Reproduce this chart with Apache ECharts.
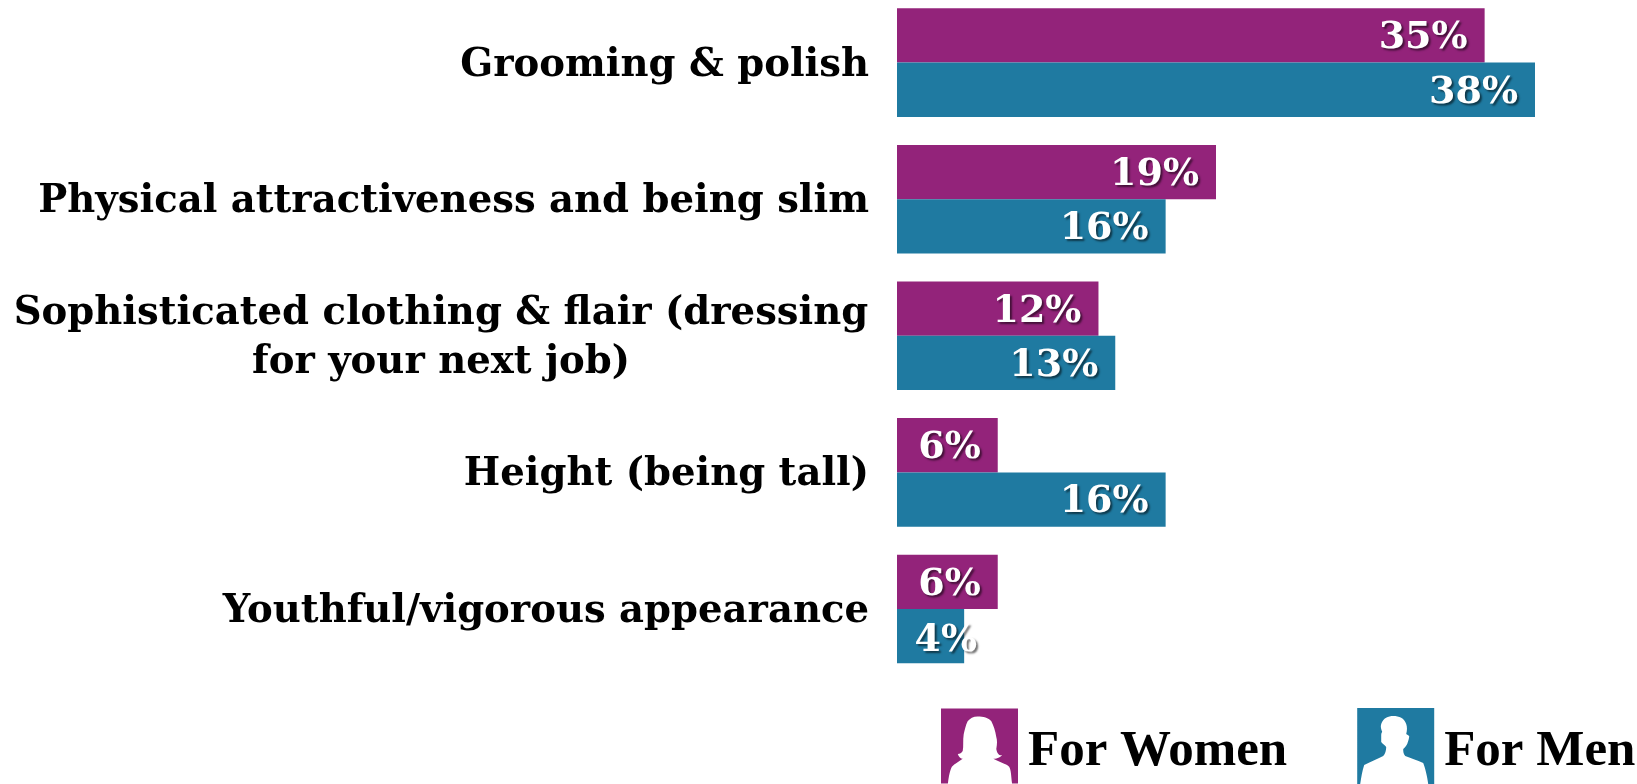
<!DOCTYPE html>
<html>
<head>
<meta charset="utf-8">
<title>Executive presence: appearance</title>
<script src="https://cdn.jsdelivr.net/npm/echarts@6/dist/echarts.min.js"></script>
<style>
  html, body { margin: 0; padding: 0; background: #fff; }
  #chart { width: 1637px; height: 784px; }
</style>
</head>
<body>
<div id="chart"></div>
<script>
const categories = [
  'Grooming & polish',
  'Physical attractiveness and being slim',
  'Sophisticated clothing & flair (dressing\nfor your next job)',
  'Height (being tall)',
  'Youthful/vigorous appearance'
];
const forWomen = [35, 19, 12, 6, 6];
const forMen = [38, 16, 13, 16, 4];
const seriesNames = ['For Women', 'For Men'];

const WOMEN_COLOR = '#93237A';
const MEN_COLOR = '#1F7AA1';
const SERIF = '"DejaVu Serif", serif';

// Portrait tiles: a coloured square with the silhouette cut out, open at the bottom edge.
const womanIcon = 'path://M0 0L78 0L78 76L72 76C71 68 71 62 69 59C66 56 58 54 53 51' +
  'C55 51 60 50 62 47C60 48 57 47 56 41C57 36 57 32 56 29C55 22 53 17 51 13C48 9 43 8 37 8' +
  'C33 8 29 10 27 13C25 17 24 22 23 26C22 32 23 38 22 43C21 45 19 46 17 46C18 49 20 51 22 51' +
  'C18 54 14 56 11 59C9 63 8 68 7 76L0 76Z';
const manIcon = 'path://M0 0L77 0L77 76L71 76C70 68 68 60 66 55C60 52 53 50 48 48' +
  'C46 46 46 43 46 41C48 39 49 38 50 36C51 33 52 30 52 28C51 27 50 27 49 26C50 22 50 19 49 16' +
  'C47 10 42 8 36 8C31 8 26 10 24 16C23 19 24 21 25 24C24 25 24 26 24 28C24 30 24 32 24 34' +
  'C25 36 28 37 29 39C29 42 28 46 26 48C20 51 13 54 7 57C5 63 4 69 3 76L0 76Z';

const valueLabel = {
  show: true,
  position: 'insideRight',
  distance: 17,
  offset: [0, 3],
  formatter: '{c}%',
  color: '#fff',
  fontFamily: SERIF,
  fontWeight: 'bold',
  fontSize: 38,
  textShadowColor: 'rgba(0,0,0,0.55)',
  textShadowBlur: 2,
  textShadowOffsetX: 2,
  textShadowOffsetY: 2
};

// Labels too wide for a short bar run past its end.
const withOverflow = values => values.map(v =>
  v < 5 ? { value: v, label: { offset: [30, 5] } } : v);

const labelFont = { fontFamily: SERIF, fontWeight: 'bold', fontSize: 38.6, color: '#000', lineHeight: 49 };
const legendFont = { fontFamily: '"Liberation Serif", serif', fontWeight: 'bold', fontSize: 51, color: '#000' };

const barStyle = { type: 'bar', barWidth: 54.3, barGap: 0, clip: false };

const chart = echarts.init(document.getElementById('chart'), null, { renderer: 'canvas' });
chart.setOption({
  animation: false,
  backgroundColor: '#fff',
  // Ticks sit on the group centres, so the first and last groups overhang the grid.
  grid: { left: 897, right: 102, top: 62.6, height: 546.4 },
  xAxis: { type: 'value', min: 0, max: 38, show: false },
  yAxis: {
    type: 'category',
    inverse: true,
    boundaryGap: false,
    data: categories,
    axisLine: { show: false },
    axisTick: { show: false },
    axisLabel: {
      margin: 28,
      interval: 0,
      padding: [6, 0, 0, 0],
      ...labelFont,
      // Two-line labels are centred on each other inside the right-aligned block.
      formatter: text => text.includes('\n')
        ? text.split('\n').map(line => '{block|' + line + '}').join('\n')
        : text,
      rich: { block: { ...labelFont, width: 856, align: 'center' } }
    }
  },
  legend: {
    left: 941,
    top: 708,
    padding: 0,
    itemWidth: 77,
    itemHeight: 76,
    itemGap: 70,
    selectedMode: false,
    formatter: name => '{name|' + name + '}',
    textStyle: { ...legendFont, rich: { name: { ...legendFont, padding: [12, 0, 0, 5] } } },
    data: [
      { name: seriesNames[0], icon: womanIcon },
      { name: seriesNames[1], icon: manIcon }
    ]
  },
  series: [
    { ...barStyle, name: seriesNames[0], data: withOverflow(forWomen), itemStyle: { color: WOMEN_COLOR }, label: valueLabel },
    { ...barStyle, name: seriesNames[1], data: withOverflow(forMen), itemStyle: { color: MEN_COLOR }, label: valueLabel }
  ]
});
</script>
</body>
</html>
